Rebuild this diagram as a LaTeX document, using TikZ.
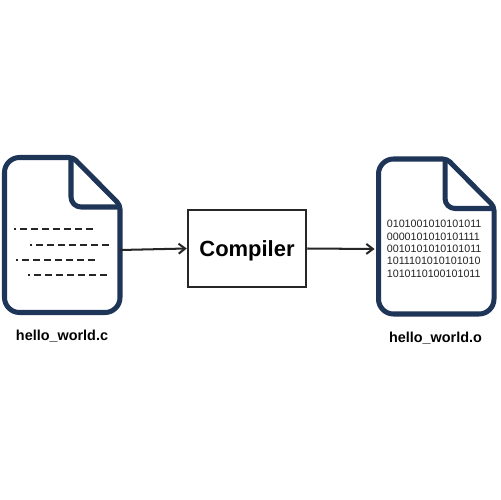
\documentclass[tikz,border=0pt]{standalone}
\usepackage{fontspec}
\setmainfont{Liberation Sans}
\usetikzlibrary{arrows.meta}
\definecolor{navy}{HTML}{1E3557}
\definecolor{ink}{HTML}{262626}
\tikzset{
  page/.style={draw=navy, line width=2.85pt, line join=round},
  flow/.style={draw=ink, line width=1.15pt, -{Straight Barb[length=1.3mm,width=2mm]}},
  code/.style={draw=ink, line width=1.1pt, dash pattern=on 3.8pt off 2.44pt, dash phase=2.7pt},
  block/.style={draw=ink, line width=1.15pt, minimum width=2.37cm, minimum height=1.55cm, text depth=0pt, font=\fontsize{12.5}{15}\bfseries},
  fname/.style={font=\fontsize{8.2}{10}\bfseries},
  bits/.style={text=ink, align=left, inner sep=0pt, font=\fontsize{6.1}{7}\selectfont},
  docpage/.pic={
    \draw[page] (40,157.5) [rounded corners=0.08cm] -- (73,157.5) -- (120,205)
      [rounded corners=0.3cm] -- (120,312.5) -- (4.5,312.5) -- (4.5,157.5) -- cycle;
    \draw[page, rounded corners=0.2cm] (71,157.5) -- (71,207) -- (120,207);
  }
}
\begin{document}
\begin{tikzpicture}[x=0.02cm,y=-0.02cm]
  \useasboundingbox[fill=white] (0,0) rectangle (500,500);

  % the two files
  \pic at (0,0) {docpage};
  \pic at (374,1.5) {docpage};

  % source text
  \draw[code] (14,229) -- (94,229);
  \draw[code] (30,245) -- (110,245);
  \draw[code] (16,260) -- (96,260);
  \draw[code] (28,275) -- (108,275);

  \node[bits,anchor=north west] (objbits) at (386.5,220) {0101001010101011\\0000101010101111\\0010101010101011\\1011101010101010\\1010110100101011};

  \node[block] (compiler) at (247,248.5) {Compiler};
  \node[fname] (srcname) at (62,336) {hello\_world.c};
  \node[fname] (objname) at (435.5,338) {hello\_world.o};

  \coordinate (srcout) at (120,250);
  \coordinate (objin) at (374.5,249);
  \draw[flow] (srcout) -- (compiler.west);
  \draw[flow] (compiler.east) -- (objin);
\end{tikzpicture}
\end{document}
